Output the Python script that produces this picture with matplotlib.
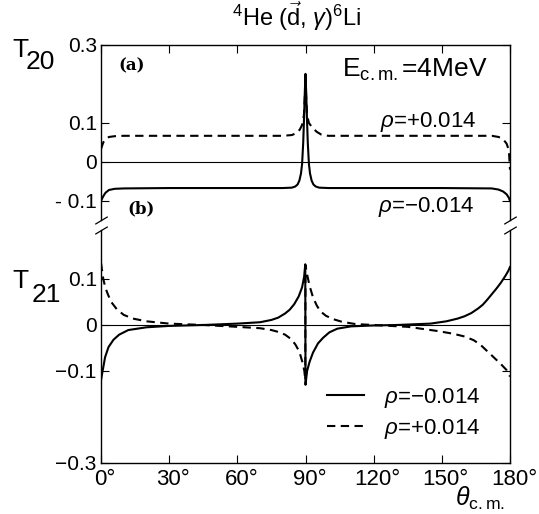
import numpy as np
import matplotlib
matplotlib.use('Agg')
import matplotlib.pyplot as plt
import matplotlib.transforms as mtrans

# T20, rho = -0.014 (solid)
th_20_neg = [0, 1, 2, 3.5, 6, 10, 30, 60, 80, 84, 85.5, 86.5, 87.3, 88, 88.5,
             89, 89.4, 89.7, 90, 90.3, 90.6, 91, 91.5, 92, 92.7, 93.5, 94.5,
             96, 100, 120, 150, 172, 175, 177, 178.5, 179.5, 180]
t20_neg = [-0.100, -0.088, -0.079, -0.072, -0.069, -0.068, -0.067, -0.067,
           -0.067, -0.066, -0.063, -0.058, -0.048, -0.030, -0.005, 0.050,
           0.120, 0.180, 0.226, 0.180, 0.120, 0.050, -0.005, -0.030, -0.048,
           -0.058, -0.063, -0.066, -0.067, -0.067, -0.067, -0.068, -0.071,
           -0.076, -0.083, -0.092, -0.100]

# T20, rho = +0.014 (dashed)
th_20_pos = [0, 1, 2, 3.5, 6, 10, 30, 60, 80, 84, 86, 87.5, 88.5, 89.3, 90,
             90.7, 91.5, 93, 95, 97, 100, 120, 150, 172, 175, 177, 178.5,
             179.5, 180]
t20_pos = [0.033, 0.050, 0.058, 0.064, 0.066, 0.067, 0.067, 0.067, 0.067,
           0.069, 0.074, 0.083, 0.095, 0.120, 0.200, 0.120, 0.100, 0.088,
           0.077, 0.070, 0.067, 0.067, 0.067, 0.067, 0.064, 0.058, 0.047,
           0.030, -0.020]

# T21, rho = -0.014 (solid)
th_21_neg = [0, 0.7, 1.8, 3.3, 5.5, 8, 12, 20, 30, 45, 60, 70, 75, 78, 81, 83,
             85, 87, 88.5, 89.4, 89.9, 90, 90.7, 91.8, 93.3, 95.5, 97.7,
             100.5, 104, 110, 120, 130, 145, 152, 157, 160, 163, 166, 168,
             170, 172, 174, 176, 178, 179.3, 180]
t21_neg = [-0.120, -0.100, -0.070, -0.048, -0.032, -0.021, -0.011, -0.005,
           -0.002, 0.000, 0.003, 0.006, 0.011, 0.016, 0.025, 0.033, 0.045,
           0.062, 0.082, 0.105, 0.132, -0.130, -0.100, -0.080, -0.060, -0.040,
           -0.028, -0.016, -0.008, -0.003, -0.001, 0.000, 0.003, 0.008, 0.014,
           0.019, 0.026, 0.036, 0.044, 0.055, 0.067, 0.079, 0.092, 0.107,
           0.118, 0.126]

# T21, rho = +0.014 (dashed)
th_21_pos = [0, 1, 2, 3, 4.5, 7, 10, 14, 20, 30, 45, 60, 70, 75, 78, 81,
             83.5, 85.5, 87.3, 88.6, 89.5, 89.9, 90, 90.7, 91.8, 93.3, 95,
             96.5, 99, 102, 106, 112, 120, 135, 148, 155, 160, 164, 167, 170,
             173, 176, 178.5, 180]
t21_pos = [0.135, 0.100, 0.080, 0.067, 0.050, 0.034, 0.022, 0.014, 0.008,
           0.003, 0.000, -0.004, -0.007, -0.011, -0.015, -0.021, -0.030,
           -0.042, -0.058, -0.080, -0.100, -0.120, 0.130, 0.110, 0.085, 0.060,
           0.042, 0.030, 0.020, 0.013, 0.007, 0.002, 0.000, -0.004, -0.013,
           -0.019, -0.025, -0.033, -0.043, -0.057, -0.071, -0.085, -0.098,
           -0.112]

x_ticks = [0, 30, 60, 90, 120, 150, 180]
x_labels = ['0°', '30°', '60°', '90°', '120°', '150°', '180°']
y20_ticks = [0.3, 0.1, 0, -0.1]
y20_labels = ['0.3', '0.1', '0', '- 0.1']
y21_ticks = [0.1, 0, -0.1, -0.3]
y21_labels = ['0.1', '0', '−0.1', '−0.3']

W, H = 539, 514
plt.rcParams['font.family'] = ['Liberation Sans', 'DejaVu Sans']
plt.rcParams['mathtext.fontset'] = 'custom'
plt.rcParams['mathtext.rm'] = 'Liberation Sans'
plt.rcParams['mathtext.it'] = 'Liberation Sans:italic'
plt.rcParams['mathtext.bf'] = 'Liberation Sans:bold'

fig = plt.figure(figsize=(W / 100, H / 100), dpi=100)


def px(x, y):
    return x / W, 1 - y / H


left, right = 101, 510
ax1 = fig.add_axes([left / W, 1 - 220 / H, (right - left) / W, 175 / H])
ax2 = fig.add_axes([left / W, 1 - 463 / H, (right - left) / W, 233 / H])

dash = (0, (4, 2.6))
ax1.plot(th_20_neg, t20_neg, color='k', lw=1.5)
ax1.plot(th_20_pos, t20_pos, color='k', lw=1.5, linestyle=dash)
ax2.plot(th_21_neg, t21_neg, color='k', lw=1.5, label=r'$\rho$=−0.014')
ax2.plot(th_21_pos, t21_pos, color='k', lw=1.5, linestyle=dash,
         label=r'$\rho$=+0.014')

for ax in (ax1, ax2):
    ax.axhline(0, color='k', lw=0.8)
    ax.set_xlim(0, 180)
    ax.set_xticks(x_ticks)
    for s in ax.spines.values():
        s.set_linewidth(1.0)
    ax.tick_params(direction='in', length=6, width=0.8, labelsize=15, pad=3)

ax1.set_ylim(-0.149, 0.3)
ax2.set_ylim(-0.3, 0.2065)
ax1.set_yticks(y20_ticks)
ax1.set_yticklabels(y20_labels)
ax2.set_yticks(y21_ticks)
ax2.set_yticklabels(y21_labels)

ax1.spines['bottom'].set_visible(False)
ax2.spines['top'].set_visible(False)
ax1.tick_params(axis='x', top=True, bottom=False, labelbottom=False)
ax2.tick_params(axis='x', top=False, bottom=True, labelsize=16, pad=4)
ax1.tick_params(axis='y', right=True)
ax2.tick_params(axis='y', right=True)
ax2.set_xticklabels(x_labels)

# numerals centred on the ticks, degree sign hanging to the right
off = mtrans.ScaledTranslation(4 / 100, 0, fig.dpi_scale_trans)
for lab in ax2.get_xticklabels():
    lab.set_transform(lab.get_transform() + off)

# axis break marks
brk = dict(marker=[(-1, -0.6), (1, 0.6)], markersize=9, linestyle='none',
           color='k', mec='k', mew=0.9, clip_on=False)
ax1.plot([0, 1], [0, 0], transform=ax1.transAxes, **brk)
ax2.plot([0, 1], [1, 1], transform=ax2.transAxes, **brk)

# texts
fig.text(*px(297, 26), r'$^4$He ($\vec{\rm d}$, $\gamma$)$^6$Li', fontsize=17,
         ha='center', va='baseline')
fig.text(*px(12, 57), 'T', fontsize=19, va='baseline')
fig.text(*px(26, 69), '20', fontsize=19, va='baseline')
fig.text(*px(12, 288), 'T', fontsize=19, va='baseline')
fig.text(*px(32, 302), '21', fontsize=19, va='baseline')
fig.text(*px(118, 66), '(a)', fontsize=12, family='DejaVu Serif',
         weight='bold', va='center')
fig.text(*px(127, 209), '(b)', fontsize=12, family='DejaVu Serif',
         weight='bold', va='center')
fig.text(*px(342, 77), r'E$_{\rm c.m.}$=4MeV', fontsize=19, va='baseline')
fig.text(*px(380, 127), r'$\rho$=+0.014', fontsize=16, va='baseline')
fig.text(*px(378, 212), r'$\rho$=−0.014', fontsize=16, va='baseline')
fig.text(*px(455, 506), r'$\theta_{\rm c.m.}$', fontsize=18, va='baseline')

ax2.legend(loc='upper left', bbox_to_anchor=px(327, 386),
           bbox_transform=fig.transFigure, frameon=False, fontsize=16,
           handlelength=1.65, handletextpad=0.9, labelspacing=0.3,
           borderpad=0, borderaxespad=0)

fig.savefig('out.png', dpi=100)
